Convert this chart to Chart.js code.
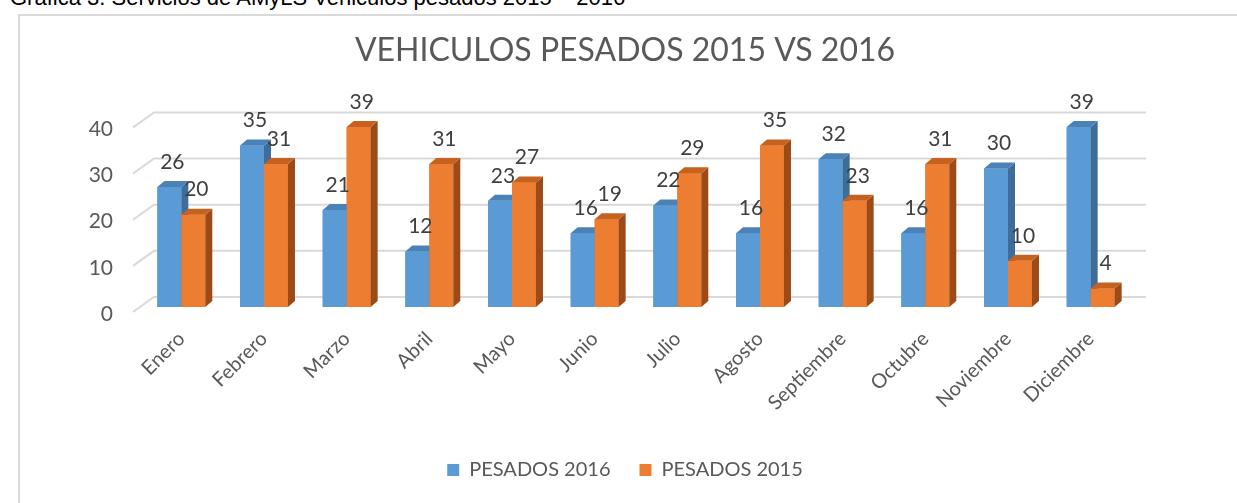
<!DOCTYPE html>
<html>
<head>
<meta charset="utf-8">
<script src="https://cdn.jsdelivr.net/npm/chart.js@4/dist/chart.umd.min.js"></script>
<style>
  html, body { margin: 0; padding: 0; background: #fff; overflow: hidden; }
  body { width: 1237px; height: 503px; position: relative; }
  #caption {
    position: absolute; left: 10px; top: -15px;
    font: 22px "Liberation Sans", Arial, sans-serif; color: #000; white-space: nowrap;
  }
  #frame {
    position: absolute; left: 18px; top: 14px; width: 1240px; height: 500px;
    border: 2px solid #d9d9d9;
  }
  #wrap { position: absolute; left: 0; top: 0; width: 1237px; height: 503px; }
</style>
</head>
<body>
<div id="caption">Grafica 3. Servicios de AMyLS Vehiculos pesados 2015 – 2016</div>
<div id="frame"></div>
<div id="wrap"><canvas id="chart"></canvas></div>
<script>
const categories = ['Enero', 'Febrero', 'Marzo', 'Abril', 'Mayo', 'Junio', 'Julio', 'Agosto', 'Septiembre', 'Octubre', 'Noviembre', 'Diciembre'];
const pesados2016 = [26, 35, 21, 12, 23, 16, 22, 16, 32, 16, 30, 39];
const pesados2015 = [20, 31, 39, 31, 27, 19, 29, 35, 23, 31, 10, 4];
const yTicks = [0, 10, 20, 30, 40];

const fontFamily = 'Lato, "Open Sans", sans-serif';

// colours for front / side / top faces
const faces = [
    { front: '#5b9bd5', side: '#3f6d9a', top: '#4a82b8' },
    { front: '#ed7d31', side: '#9c4a17', top: '#c5621f' }
];
const depthX = 7, depthY = 6;

// fake 3D: back-wall gridlines, bar sides and tops, value labels
const bars3d = {
    id: 'bars3d',
    beforeDatasetsDraw(chart) {
        const ctx = chart.ctx;
        const area = chart.chartArea;
        const yScale = chart.scales.y;
        ctx.save();
        ctx.strokeStyle = '#d9d9d9';
        ctx.lineWidth = 2;
        yTicks.forEach(function(v) {
            const py = yScale.getPixelForValue(v);
            ctx.beginPath();
            ctx.moveTo(area.left - 7, py + 5);
            ctx.lineTo(area.left + 14, py - 10);
            ctx.lineTo(area.right + 14, py - 10);
            ctx.stroke();
        });
        ctx.restore();
    },
    afterDatasetsDraw(chart) {
        const ctx = chart.ctx;
        ctx.save();
        const labels = [];
        [0, 1].forEach(function(d) {
            const meta = chart.getDatasetMeta(d);
            const c = faces[d];
            meta.data.forEach(function(bar, i) {
                const p = bar.getProps(['x', 'y', 'base', 'width'], true);
                const l = p.x - p.width / 2, r = p.x + p.width / 2;
                ctx.fillStyle = c.front;
                ctx.fillRect(l, p.y, p.width, p.base - p.y);
                ctx.fillStyle = c.side;
                ctx.beginPath();
                ctx.moveTo(r, p.y);
                ctx.lineTo(r + depthX, p.y - depthY);
                ctx.lineTo(r + depthX, p.base - depthY);
                ctx.lineTo(r, p.base);
                ctx.closePath();
                ctx.fill();
                ctx.fillStyle = c.top;
                ctx.beginPath();
                ctx.moveTo(l, p.y);
                ctx.lineTo(l + depthX, p.y - depthY);
                ctx.lineTo(r + depthX, p.y - depthY);
                ctx.lineTo(r, p.y);
                ctx.closePath();
                ctx.fill();
                labels.push({ x: p.x + 3, y: p.y - 25, text: chart.data.datasets[d].data[i] });
            });
        });
        ctx.fillStyle = '#404040';
        ctx.font = '21px ' + fontFamily;
        ctx.textAlign = 'center';
        ctx.textBaseline = 'middle';
        labels.forEach(function(t) { ctx.fillText(String(t.text), t.x, t.y); });
        ctx.restore();
    }
};

new Chart(document.getElementById('chart'), {
    type: 'bar',
    data: {
        labels: categories,
        datasets: [
            { label: 'PESADOS 2016', data: pesados2016, backgroundColor: faces[0].front },
            { label: 'PESADOS 2015', data: pesados2015, backgroundColor: faces[1].front }
        ]
    },
    options: {
        responsive: true,
        maintainAspectRatio: false,
        animation: false,
        layout: { padding: { left: 13, right: 0, top: 0, bottom: 13 } },
        datasets: { bar: { categoryPercentage: 0.58, barPercentage: 1 } },
        plugins: {
            title: {
                display: true,
                text: 'VEHICULOS PESADOS 2015 VS 2016',
                color: '#595959',
                font: { family: fontFamily, size: 32, weight: 'normal' },
                padding: { top: 31, bottom: 53 }
            },
            legend: {
                position: 'bottom',
                labels: {
                    color: '#595959',
                    boxWidth: 12,
                    boxHeight: 12,
                    padding: 29,
                    font: { family: fontFamily, size: 20 }
                }
            },
            tooltip: { enabled: false }
        },
        scales: {
            x: {
                grid: { display: false },
                border: { display: false },
                ticks: {
                    color: '#595959',
                    minRotation: 45,
                    maxRotation: 45,
                    padding: 12,
                    font: { family: fontFamily, size: 20 }
                },
                afterFit: function(scale) { scale.height = 124; }
            },
            y: {
                min: 0,
                max: 40,
                grid: { display: false, drawTicks: false },
                border: { display: false },
                ticks: {
                    stepSize: 10,
                    color: '#595959',
                    padding: 27,
                    labelOffset: 7,
                    font: { family: fontFamily, size: 21 }
                },
                afterFit: function(scale) { scale.width = 127; }
            },
            // empty axis keeping the right margin so title and legend stay centred on the frame
            yRight: {
                position: 'right',
                display: true,
                grid: { display: false, drawTicks: false },
                border: { display: false },
                ticks: { display: false },
                afterFit: function(scale) { scale.width = 105; }
            }
        }
    },
    plugins: [bars3d]
});
</script>
</body>
</html>
